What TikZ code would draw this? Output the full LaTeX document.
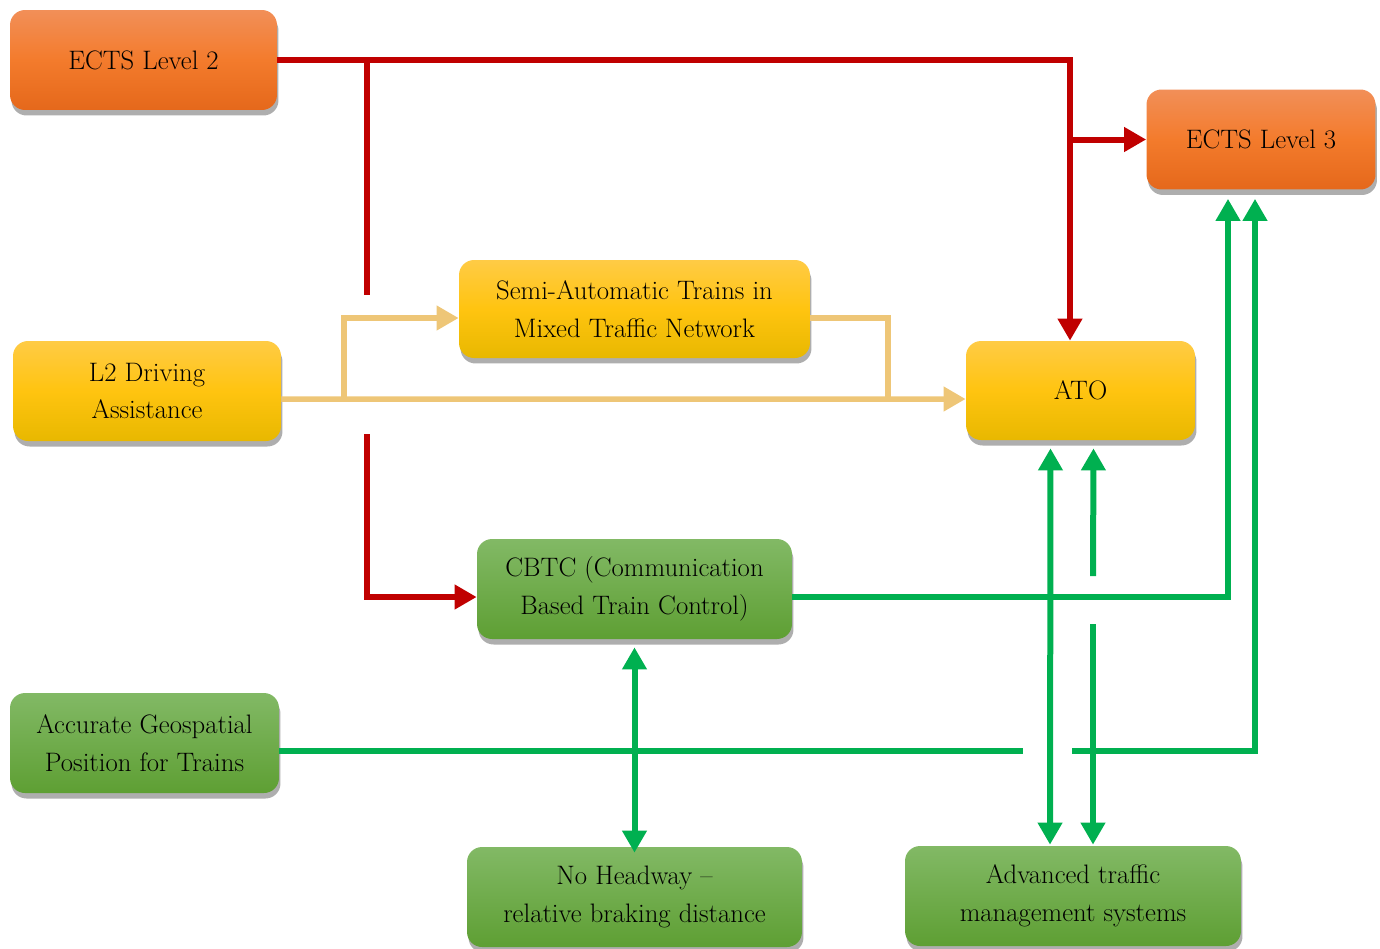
\documentclass[tikz,border=0pt]{standalone}
\usepackage{fontspec}
\usepackage{tikz}
\usetikzlibrary{arrows.meta,shadows,calc}

\definecolor{linkred}{HTML}{C00000}
\definecolor{linkgreen}{HTML}{00B050}
\definecolor{linktan}{HTML}{EEC677}
\definecolor{orangetop}{HTML}{F28F58}
\definecolor{orangemid}{HTML}{F37B2C}
\definecolor{orangebot}{HTML}{E5681B}
\definecolor{yellowtop}{HTML}{FFCB45}
\definecolor{yellowmid}{HTML}{FFC410}
\definecolor{yellowbot}{HTML}{E8B800}
\definecolor{greentop}{HTML}{82B965}
\definecolor{greenbot}{HTML}{5E9F33}

\tikzset{
	box/.style={rounded corners=0.3cm, minimum height=2cm, align=center,
		font=\fontsize{15.2}{21.5}\selectfont,
		drop shadow={shadow xshift=0.03cm, shadow yshift=-0.11cm, fill=black!70, opacity=0.45}},
	orangebox/.style={box, top color=orangetop, bottom color=orangebot, middle color=orangemid},
	yellowbox/.style={box, top color=yellowtop, bottom color=yellowbot, middle color=yellowmid},
	greenbox/.style={box, top color=greentop, bottom color=greenbot},
	tip/.style={-{Triangle[width=0.47cm,length=0.44cm]}},
	tipboth/.style={{Triangle[width=0.47cm,length=0.44cm]}-{Triangle[width=0.47cm,length=0.44cm]}},
	redlink/.style={draw=linkred, line width=0.12cm},
	greenlink/.style={draw=linkgreen, line width=0.12cm},
	tanlink/.style={draw=linktan, line width=0.11cm}
}

\begin{document}
\begin{tikzpicture}[x=0.02cm,y=-0.02cm]

	\useasboundingbox (0,0) rectangle (1380,948);

	\node[orangebox, minimum width=5.34cm] (ects2) at (143.5,60) {ECTS Level 2};
	\node[orangebox, minimum width=4.58cm] (ects3) at (1261,139.5) {ECTS Level 3};
	\node[yellowbox, minimum width=5.36cm] (l2) at (147,391) {L2 Driving\\Assistance};
	\node[yellowbox, minimum width=7.02cm, minimum height=1.96cm] (semi) at (634.5,309) {Semi-Automatic Trains in\\Mixed Traffic Network};
	\node[yellowbox, minimum width=4.58cm, minimum height=1.98cm] (ato) at (1080.5,390.5) {ATO};
	\node[greenbox, minimum width=6.3cm] (cbtc) at (634.5,589) {CBTC (Communication\\Based Train Control)};
	\node[greenbox, minimum width=5.38cm] (geo) at (144.5,743) {Accurate Geospatial\\Position for Trains};
	\node[greenbox, minimum width=6.7cm] (headway) at (634.5,897) {No Headway --\\relative braking distance};
	\node[greenbox, minimum width=6.72cm] (atms) at (1073,896) {Advanced traffic\\management systems};

	% ECTS level 2 links
	\coordinate (rj) at (1070,60);
	\coordinate (rk) at (367,60);
	\coordinate (rgapa) at (367,295);
	\coordinate (rgapb) at (367,434);
	\draw[redlink, tip] (ects2.east) -- (rj) -- (rj |- ato.north);
	\draw[redlink, tip] (rj |- ects3.west) -- (ects3.west);
	\draw[redlink] (rk) -- (rgapa);
	\draw[redlink, tip] (rgapb) |- ($(cbtc.west)+(0,8)$);

	% L2 driving assistance links
	\coordinate (ta) at (344,399);
	\coordinate (tb) at (888,399);
	\draw[tanlink, tip] ($(l2.east)+(0,8)$) -- ($(ato.west)+(0,8.5)$);
	\draw[tanlink, tip] (ta) |- ($(semi.west)+(0,9)$);
	\draw[tanlink] ($(semi.east)+(0,9)$) -| (tb);

	% green links
	\coordinate (ga) at (1023,751);
	\coordinate (gb) at (1072,751);
	\coordinate (gc) at (1093,576);
	\coordinate (gd) at (1093,624);
	\draw[greenlink, tip] ($(cbtc.east)+(0,8)$) -| ($(ects3.south)+(-33,9)$);
	\draw[greenlink] ($(geo.east)+(0,8)$) -- (ga);
	\draw[greenlink, tip] (gb) -| ($(ects3.south)+(-6,9)$);
	\draw[greenlink, tipboth] ($(ato.south)+(-30,8)$) -- ($(atms.north)+(-23,-1)$);
	\draw[greenlink, tip] (gc) -- ($(ato.south)+(13,8)$);
	\draw[greenlink, tip] (gd) -- ($(atms.north)+(20,-1)$);
	\draw[greenlink, tipboth] ($(cbtc.south)+(0,8)$) -- ($(headway.north)+(0,6)$);

\end{tikzpicture}
\end{document}
